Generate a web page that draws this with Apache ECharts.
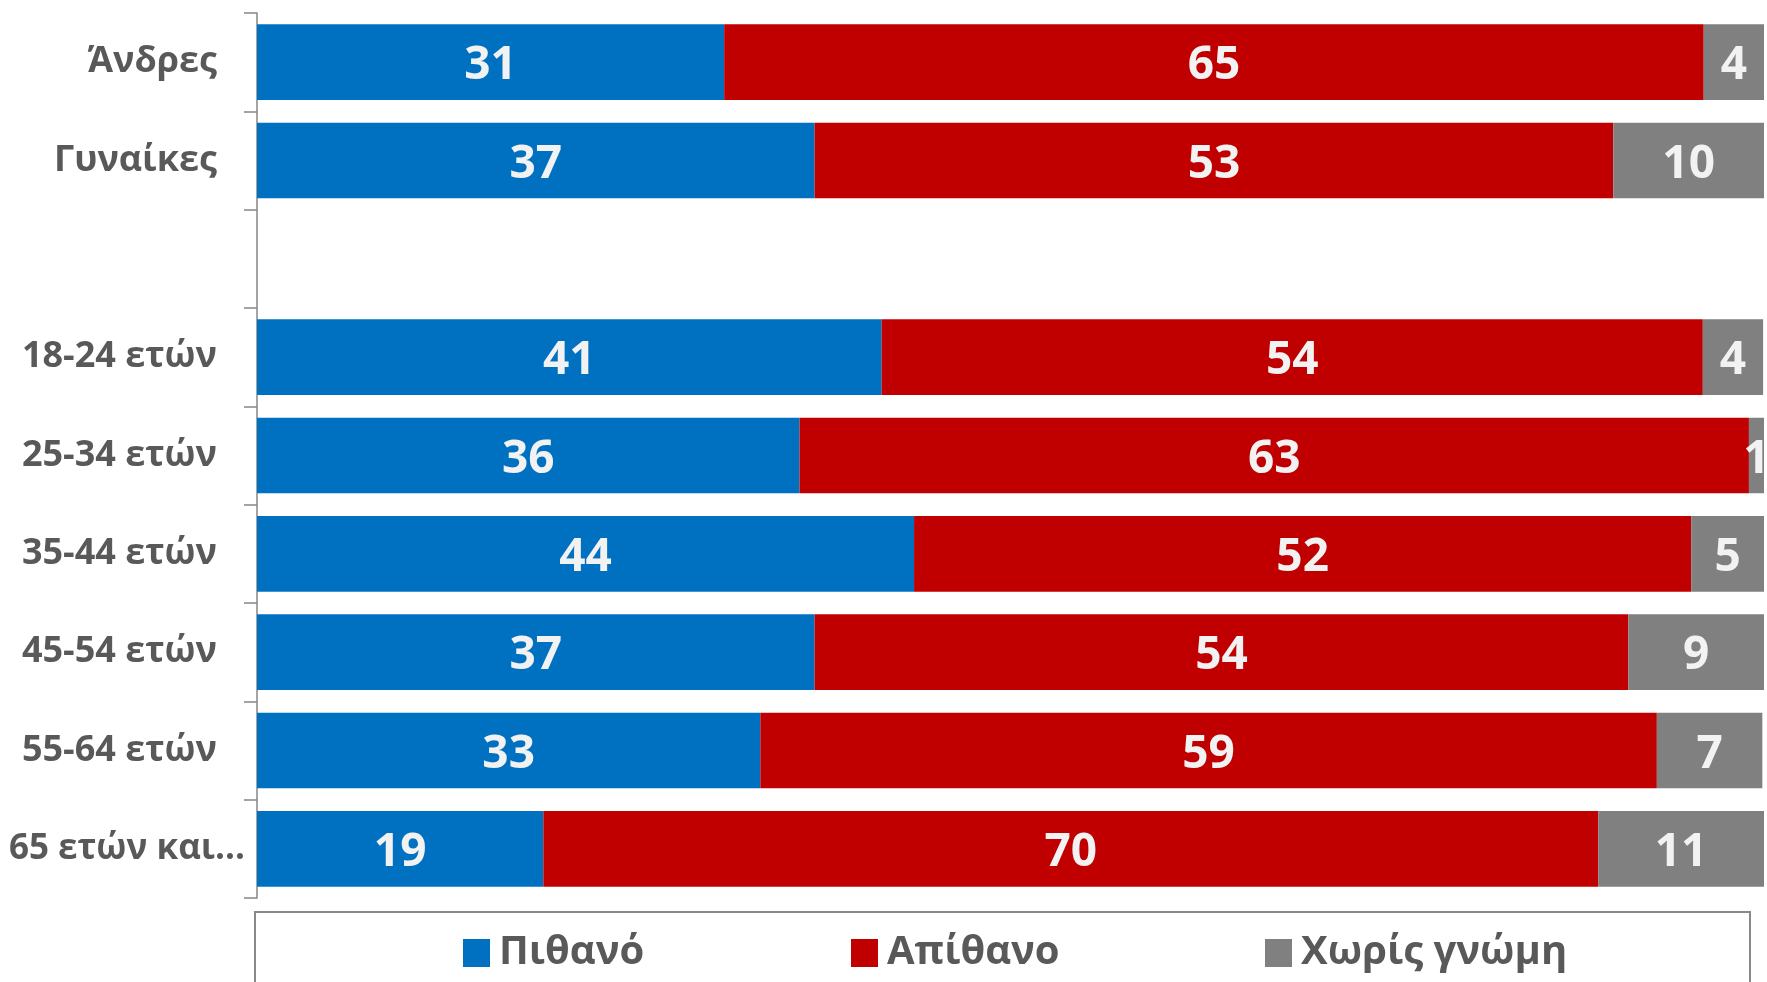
<!DOCTYPE html>
<html>
<head>
<meta charset="utf-8">
<script src="https://cdn.jsdelivr.net/npm/echarts@6/dist/echarts.min.js"></script>
<style>
  html, body { margin: 0; padding: 0; background: #fff; }
  #chart { width: 1767px; height: 982px; }
</style>
</head>
<body>
<div id="chart"></div>
<script>
// categories (empty slot separates gender from age groups); last label is cut in the original
const categories = ['Άνδρες', 'Γυναίκες', '', '18-24 ετών', '25-34 ετών', '35-44 ετών', '45-54 ετών', '55-64 ετών', '65 ετών και...'];
const seriesNames = ['Πιθανό', 'Απίθανο', 'Χωρίς γνώμη'];
const pithano  = [31, 37, null, 41.45, 36, 43.6, 37, 33.4, 19];
const apithano = [65, 53, null, 54.49, 63, 51.57, 54, 59.49, 70];
const xoris    = [4, 10, null, 4, 1, 5, 9, 7, 11];
const colors = ['#0070C0', '#C00000', '#808080'];

const chart = echarts.init(document.getElementById('chart'));

const font = '"Open Sans", "Noto Sans", sans-serif';

function makeSeries(name, data, color) {
  return {
    name: name,
    type: 'bar',
    stack: 'total',
    barWidth: '77%',
    data: data,
    itemStyle: { color: color },
    label: {
      show: true,
      position: 'inside',
      offset: [0, 4],
      color: '#F2F2F2',
      fontFamily: font,
      fontWeight: 'bold',
      fontSize: 46,
      formatter: p => (p.value == null ? '' : Math.round(p.value))
    }
  };
}

// last label is wider in the original, it sits closer to the axis
const yData = categories.map((c, i) => i === categories.length - 1
  ? { value: c, textStyle: { fontSize: 35, padding: [8, -28, 0, 0] } }
  : c);

// legend positions, one legend per item
const legendLeft = [458, 846, 1260];

const option = {
  backgroundColor: '#ffffff',
  animation: false,
  grid: { left: 257, right: 3, top: 13, bottom: 84 },
  xAxis: { type: 'value', min: 0, max: 100, show: false },
  yAxis: {
    type: 'category',
    inverse: true,
    data: yData,
    axisLine: { show: true, lineStyle: { color: '#868686', width: 1.5 } },
    axisTick: { show: true, length: 13, lineStyle: { color: '#868686', width: 1.5 } },
    axisLabel: {
      color: '#595959',
      fontFamily: font,
      fontWeight: 'bold',
      fontSize: 36,
      margin: 40,
      padding: [8, 0, 0, 0],
      overflow: 'none'
    }
  },
  legend: seriesNames.map((n, i) => ({
    data: [n],
    left: legendLeft[i],
    top: 928,
    itemWidth: 27,
    itemHeight: 28,
    itemGap: 0,
    icon: 'rect',
    textStyle: { color: '#595959', fontFamily: font, fontWeight: 'bold', fontSize: 40, padding: [0, 0, 0, 4] }
  })),
  graphic: [{
    type: 'rect',
    shape: { x: 255, y: 912, width: 1495, height: 120 },
    style: { fill: 'none', stroke: '#898989', lineWidth: 2 },
    silent: true
  }],
  series: [
    makeSeries(seriesNames[0], pithano, colors[0]),
    makeSeries(seriesNames[1], apithano, colors[1]),
    makeSeries(seriesNames[2], xoris, colors[2])
  ]
};

chart.setOption(option);
</script>
</body>
</html>
